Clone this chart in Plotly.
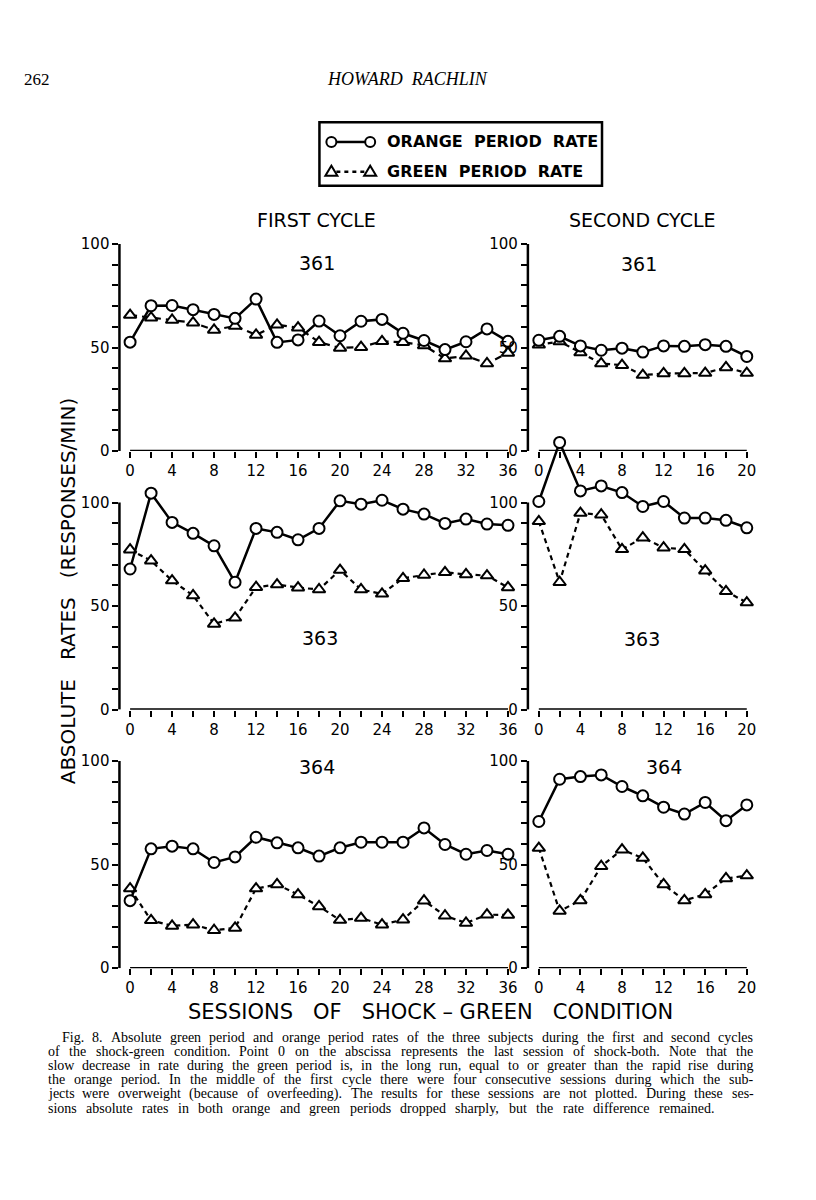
import plotly.graph_objects as go

# ---------------- data ----------------
sessions_first = [0, 2, 4, 6, 8, 10, 12, 14, 16, 18, 20, 22, 24, 26, 28, 30, 32, 34, 36]
sessions_second = [0, 2, 4, 6, 8, 10, 12, 14, 16, 18, 20]

s361_first_orange = [52.6, 70.2, 70.3, 68.3, 66.0, 64.1, 73.4, 52.5, 53.7, 62.8, 55.7, 62.7, 63.6, 56.9, 53.4, 49.0, 52.8, 59.0, 53.0]
s361_first_green = [65.7, 64.4, 63.3, 62.0, 58.5, 60.4, 56.1, 61.0, 59.6, 52.6, 49.8, 50.2, 53.0, 52.6, 51.0, 44.7, 46.0, 42.3, 47.4]
s361_second_orange = [53.5, 55.4, 50.8, 48.7, 49.7, 47.8, 50.8, 50.6, 51.4, 50.6, 45.7]
s361_second_green = [51.3, 52.9, 47.6, 42.3, 41.5, 36.7, 37.5, 37.5, 37.7, 40.4, 37.7]

s363_first_orange = [67.9, 104.5, 90.4, 85.1, 79.1, 61.5, 87.5, 85.6, 82.0, 87.5, 100.8, 99.2, 101.1, 96.8, 94.4, 89.9, 92.0, 89.6, 89.0]
s363_first_green = [77.2, 71.9, 62.3, 55.1, 41.4, 44.3, 59.1, 60.4, 58.9, 58.0, 67.4, 58.0, 55.9, 63.4, 65.0, 66.3, 65.3, 64.7, 59.0]
s363_second_orange = [100.5, 129.0, 105.6, 108.0, 104.8, 98.1, 100.5, 92.5, 92.5, 91.4, 87.8]
s363_second_green = [90.9, 61.5, 94.9, 94.1, 77.4, 83.0, 78.2, 77.4, 67.1, 57.1, 51.7]

s364_first_orange = [32.6, 57.6, 58.9, 57.6, 51.0, 53.7, 63.2, 60.5, 58.1, 54.1, 58.1, 60.8, 60.8, 60.8, 67.7, 59.7, 55.0, 56.8, 55.0]
s364_first_green = [38.4, 23.1, 20.4, 21.0, 18.3, 19.4, 38.4, 40.4, 35.5, 29.8, 23.2, 24.2, 21.0, 23.4, 32.6, 25.3, 21.8, 25.8, 25.7]
s364_second_orange = [70.8, 91.2, 92.5, 93.3, 87.7, 83.2, 77.7, 74.4, 80.0, 71.2, 78.8]
s364_second_green = [58.0, 27.6, 32.7, 49.2, 57.2, 53.2, 40.4, 32.7, 35.6, 43.3, 44.7]

subjects = ["361", "363", "364"]
column_titles = ["FIRST CYCLE", "SECOND CYCLE"]
y_tick_values = [0, 10, 20, 30, 40, 50, 60, 70, 80, 90, 100]
y_tick_labels = ["0", "", "", "", "", "50", "", "", "", "", "100"]

caption_lines = [
    "Fig. 8. Absolute green period and orange period rates of the three subjects during the first and second cycles",
    "of the shock-green condition. Point 0 on the abscissa represents the last session of shock-both. Note that the",
    "slow decrease in rate during the green period is, in the long run, equal to or greater than the rapid rise during",
    "the orange period. In the middle of the first cycle there were four consecutive sessions during which the sub-",
    "jects were overweight (because of overfeeding). The results for these sessions are not plotted. During these ses-",
    "sions absolute rates in both orange and green periods dropped sharply, but the rate difference remained.",
]

# ---------------- layout helpers ----------------
# the page body has an 8px margin; figure placed at (8, 8)
OFF = 8
W, H = 800, 1184


def px_x(p):
    return (p - OFF) / W


def px_y(p):
    return 1 - (p - OFF) / H


FONT = "DejaVu Sans"
SERIF = "Liberation Serif"

panels = [
    (sessions_first, s361_first_orange, s361_first_green, 0, 0),
    (sessions_second, s361_second_orange, s361_second_green, 1, 0),
    (sessions_first, s363_first_orange, s363_first_green, 0, 1),
    (sessions_second, s363_second_orange, s363_second_green, 1, 1),
    (sessions_first, s364_first_orange, s364_first_green, 0, 2),
    (sessions_second, s364_second_orange, s364_second_green, 1, 2),
]

col_geo = [
    dict(axis=120.0, zero=130.7, ppu=10.55, right=516.0, xmax=36),
    dict(axis=530.5, zero=541.5, ppu=10.45, right=756.0, xmax=20),
]
row_geo = [
    dict(zero=454.5, ppu=2.087, ymax=110),
    dict(zero=715.0, ppu=2.087, ymax=136),
    dict(zero=975.5, ppu=2.087, ymax=110),
]

fig = go.Figure()
layout = dict(
    width=W, height=H, autosize=False,
    margin=dict(l=0, r=0, t=0, b=0),
    paper_bgcolor="white", plot_bgcolor="rgba(0,0,0,0)",
    showlegend=False,
    font=dict(family=FONT, color="black"),
)
shapes = []
annotations = []

for i, (xs, orange, green, col, row) in enumerate(panels):
    k = i + 1
    cg, rg = col_geo[col], row_geo[row]
    xr = [(cg["axis"] - cg["zero"]) / cg["ppu"], (cg["right"] - cg["zero"]) / cg["ppu"]]
    top_px = rg["zero"] - rg["ymax"] * rg["ppu"]
    xname = "xaxis" if k == 1 else f"xaxis{k}"
    yname = "yaxis" if k == 1 else f"yaxis{k}"
    xa = "x" if k == 1 else f"x{k}"
    ya = "y" if k == 1 else f"y{k}"
    xticks = list(range(0, cg["xmax"] + 1, 2))
    layout[xname] = dict(
        domain=[px_x(cg["axis"]), px_x(cg["right"])], range=xr, anchor=ya,
        showline=False, showgrid=False, zeroline=False,
        tickvals=xticks, ticktext=[str(t) if t % 4 == 0 else "" for t in xticks],
        ticks="outside", ticklen=6, tickwidth=2, tickcolor="black",
        tickfont=dict(family=FONT, size=15, color="black"),
    )
    layout[yname] = dict(
        domain=[px_y(rg["zero"]), px_y(top_px)], range=[0, rg["ymax"]], anchor=xa,
        showline=False, showgrid=False, zeroline=False,
        tickvals=y_tick_values, ticktext=y_tick_labels,
        ticks="outside", ticklen=6, tickwidth=2, tickcolor="black",
        tickfont=dict(family=FONT, size=15, color="black"),
    )
    shapes.append(dict(type="line", xref=f"{xa} domain", yref=ya, x0=0, x1=0, y0=0, y1=100,
                       line=dict(color="black", width=2.5)))
    shapes.append(dict(type="line", xref=xa, yref=ya, x0=0, x1=cg["xmax"], y0=0, y1=0,
                       line=dict(color="black", width=2.5)))
    dash = "7px,5px" if k == 1 else "5px,4px"
    fig.add_trace(go.Scatter(
        x=xs, y=green, mode="lines+markers", xaxis=xa, yaxis=ya, cliponaxis=False,
        line=dict(color="black", width=2.2, dash=dash),
        marker=dict(symbol="triangle-up", size=11, color="white", line=dict(color="black", width=2)),
    ))
    fig.add_trace(go.Scatter(
        x=xs, y=orange, mode="lines+markers", xaxis=xa, yaxis=ya, cliponaxis=False,
        line=dict(color="black", width=2.5),
        marker=dict(symbol="circle", size=11, color="white", line=dict(color="black", width=2)),
    ))

# subject labels
label_pos = [(319, 265), (642, 266), (322, 643), (645, 644), (319, 773), (667, 773)]
for (lx, ly), name in zip(label_pos, [s for s in subjects for _ in range(2)]):
    annotations.append(dict(text=name, x=px_x(lx), y=px_y(ly), xref="paper", yref="paper",
                            showarrow=False, xanchor="center", yanchor="middle",
                            font=dict(family=FONT, size=19, color="black")))

for cx, t in zip([318, 646], column_titles):
    annotations.append(dict(text=t, x=px_x(cx), y=px_y(222), xref="paper", yref="paper",
                            showarrow=False, xanchor="center", yanchor="middle",
                            font=dict(family=FONT, size=19, color="black")))

annotations.append(dict(text="ABSOLUTE   RATES   (RESPONSES/MIN)", x=px_x(68), y=px_y(595),
                        xref="paper", yref="paper", showarrow=False, textangle=-90,
                        xanchor="center", yanchor="middle",
                        font=dict(family=FONT, size=20, color="black")))
annotations.append(dict(text="SESSIONS   OF   SHOCK \u2013 GREEN   CONDITION", x=px_x(433), y=px_y(1020),
                        xref="paper", yref="paper", showarrow=False,
                        xanchor="center", yanchor="middle",
                        font=dict(family=FONT, size=21, color="black")))

# page header
annotations.append(dict(text="262", x=px_x(22), y=px_y(80), xref="paper", yref="paper",
                        showarrow=False, xanchor="left", yanchor="middle",
                        font=dict(family=SERIF, size=17, color="black")))
annotations.append(dict(text="<i>HOWARD  RACHLIN</i>", x=px_x(410), y=px_y(80), xref="paper", yref="paper",
                        showarrow=False, xanchor="center", yanchor="middle",
                        font=dict(family=SERIF, size=18, color="black")))

# legend box
shapes.append(dict(type="rect", xref="paper", yref="paper", x0=px_x(321), x1=px_x(605),
                   y0=px_y(123), y1=px_y(187), line=dict(color="black", width=2.5)))
for ly, dsh in [(143, "solid"), (173, "4px,4px")]:
    shapes.append(dict(type="line", xref="paper", yref="paper", x0=px_x(338), x1=px_x(367),
                       y0=px_y(ly), y1=px_y(ly), line=dict(color="black", width=2.5, dash=dsh)))
for cx in [333, 372]:
    shapes.append(dict(type="circle", xref="paper", yref="paper", xsizemode="pixel", ysizemode="pixel",
                       xanchor=px_x(cx), yanchor=px_y(143), x0=-5, x1=5, y0=-5, y1=5,
                       fillcolor="white", line=dict(color="black", width=2)))
    shapes.append(dict(type="path", xref="paper", yref="paper", xsizemode="pixel", ysizemode="pixel",
                       xanchor=px_x(cx), yanchor=px_y(173), path="M -6 -4 L 6 -4 L 0 6 Z",
                       fillcolor="white", line=dict(color="black", width=2)))
annotations.append(dict(text="<b>ORANGE  PERIOD  RATE</b>", x=px_x(387), y=px_y(143), xref="paper", yref="paper",
                        showarrow=False, xanchor="left", yanchor="middle",
                        font=dict(family=FONT, size=16, color="black")))
annotations.append(dict(text="<b>GREEN  PERIOD  RATE</b>", x=px_x(387), y=px_y(173), xref="paper", yref="paper",
                        showarrow=False, xanchor="left", yanchor="middle",
                        font=dict(family=FONT, size=16, color="black")))

# ---------------- caption (justified word by word, Times metrics) ----------------
TIMES_W = {" ": 250, "(": 333, ")": 333, ",": 250, "-": 333, ".": 250, ":": 278, ";": 278}
TIMES_W.update({d: 500 for d in "0123456789"})
TIMES_W.update(dict(zip("ABCDEFGHIJKLMNOPQRSTUVWXYZ",
                        [722, 667, 667, 722, 611, 556, 722, 722, 333, 389, 722, 611, 889, 722, 722,
                         556, 722, 667, 556, 611, 722, 722, 944, 722, 722, 611])))
TIMES_W.update(dict(zip("abcdefghijklmnopqrstuvwxyz",
                        [444, 500, 444, 500, 444, 333, 500, 500, 278, 278, 500, 278, 778, 500, 500,
                         500, 500, 333, 389, 278, 500, 500, 722, 500, 500, 444])))


def text_width(s, size):
    return sum(TIMES_W.get(c, 500) for c in s) * size / 1000.0


CAP_SIZE = 14.0
CAP_STEP = 14.3
CAP_TOP = 1045.0
line_right = [757, 757, 757, 757, 757, 718]
for j, line in enumerate(caption_lines):
    left = 62 if j == 0 else 48
    ypos = px_y(CAP_TOP + j * CAP_STEP)
    words = line.split(" ")
    total = sum(text_width(w, CAP_SIZE) for w in words)
    gap = (line_right[j] - left - total) / (len(words) - 1)
    xcur = left
    for w in words:
        annotations.append(dict(text=w, x=px_x(xcur), y=ypos, xref="paper", yref="paper",
                                showarrow=False, xanchor="left", yanchor="middle",
                                borderpad=0, borderwidth=0,
                                font=dict(family=SERIF, size=CAP_SIZE, color="black")))
        xcur += text_width(w, CAP_SIZE) + gap

layout["shapes"] = shapes
layout["annotations"] = annotations
fig.update_layout(**layout)
fig.write_html("out.html")
